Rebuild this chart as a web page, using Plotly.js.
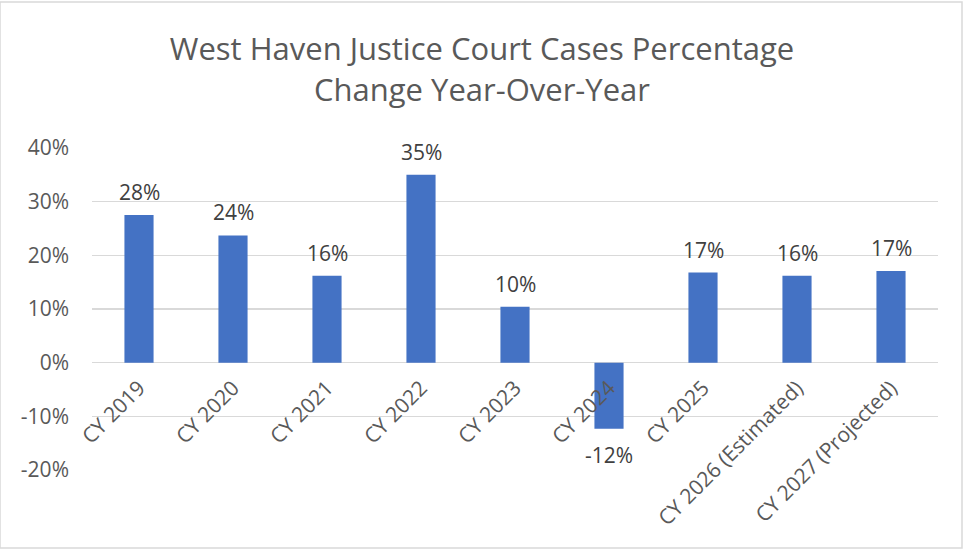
<!DOCTYPE html>
<html>
<head>
<meta charset="utf-8">
<script src="https://cdn.plot.ly/plotly-3.0.1.min.js"></script>
<style>
html,body{margin:0;padding:0;background:#fff;}
#chart{width:964px;height:549px;}
</style>
</head>
<body>
<div id="chart"></div>
<script>
const categories = ["CY 2019","CY 2020","CY 2021","CY 2022","CY 2023","CY 2024","CY 2025","CY 2026 (Estimated)","CY 2027 (Projected)"];
const pctChange = [0.275, 0.237, 0.162, 0.350, 0.104, -0.123, 0.168, 0.162, 0.171];
const yTickVals = [-0.2,-0.1,0,0.1,0.2,0.3,0.4];
const yTickText = ["-20%","-10%","0%","10%","20%","30%","40%"];
const yRange = [-0.2, 0.4];

const fontFam = "Open Sans, sans-serif";
const marginTop = 148, marginBottom = 79;
const plotH = 549 - marginTop - marginBottom;
const zeroPos = (0 - yRange[0]) / (yRange[1] - yRange[0]);

const trace = {
  type: "bar",
  x: categories,
  y: pctChange,
  marker: {color: "#4472C4"},
  hoverinfo: "skip",
  cliponaxis: false
};

const annotations = categories.map((c, i) => ({
  x: c, y: pctChange[i], xref: "x", yref: "y",
  text: Math.round(pctChange[i]*100) + "%",
  showarrow: false,
  yanchor: pctChange[i] >= 0 ? "bottom" : "top",
  yshift: pctChange[i] >= 0 ? 7 : -10,
  font: {family: fontFam, size: 21, color: "#404040"}
}));

const layout = {
  width: 964, height: 549,
  paper_bgcolor: "#fff", plot_bgcolor: "#fff",
  margin: {l: 92, r: 26, t: marginTop, b: marginBottom},
  title: {
    text: "West Haven Justice Court Cases Percentage<br>Change Year-Over-Year",
    font: {family: fontFam, size: 31, color: "#595959"},
    x: 0.5, xanchor: "center", y: 0.89, yanchor: "middle"
  },
  showlegend: false,
  bargap: 0.69,
  xaxis: {
    anchor: "free", position: zeroPos,
    tickangle: -45,
    showgrid: false, showline: false, zeroline: false,
    ticks: "", ticklabelstandoff: 8,
    tickfont: {family: fontFam, size: 21, color: "#595959"},
    fixedrange: true
  },
  yaxis: {
    range: yRange,
    tickvals: yTickVals, ticktext: yTickText,
    showgrid: true, gridcolor: "#D9D9D9", gridwidth: 1.5,
    zeroline: true, zerolinecolor: "#D9D9D9", zerolinewidth: 1.5,
    showline: false, ticks: "",
    ticklabelstandoff: 22,
    tickfont: {family: fontFam, size: 21, color: "#595959"},
    fixedrange: true
  },
  annotations: annotations,
  shapes: [{
    type: "rect", xref: "paper", yref: "paper",
    x0: -92/846, x1: 1 + 24/846, y0: -78/plotH, y1: 1 + 146/plotH,
    line: {color: "#D9D9D9", width: 1.5}, fillcolor: "rgba(0,0,0,0)"
  }]
};

Plotly.newPlot("chart", [trace], layout, {displayModeBar: false, staticPlot: true});
</script>
</body>
</html>
